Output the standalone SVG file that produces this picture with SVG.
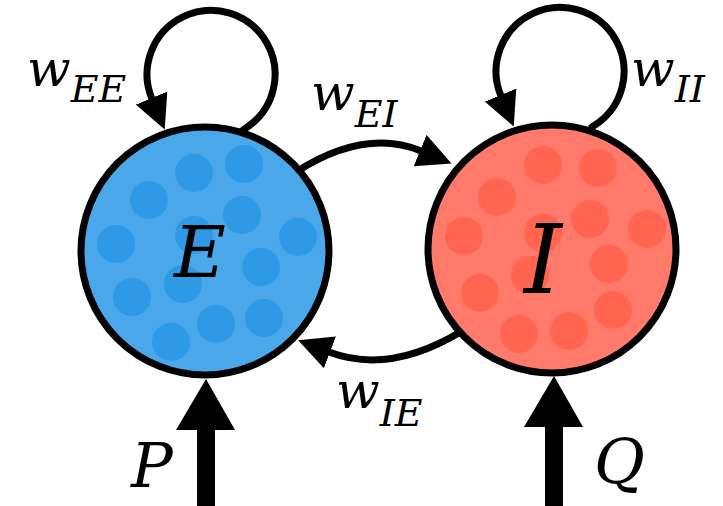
<svg xmlns="http://www.w3.org/2000/svg" width="723" height="506" viewBox="0 0 723 506">
<style>
text{font-family:"DejaVu Serif",serif;font-style:italic;fill:#000}
.w{font-size:51px}
.sub{font-size:38px}
.conn{fill:none;stroke:#000;stroke-width:7}
.ring{stroke:#000;stroke-width:7}
.efill{fill:#4AA8EA}
.edot{fill:#2E99E4}
.ifill{fill:#FF7A6A}
.idot{fill:#FF6550}
</style>
<defs>
<marker id="ah" markerUnits="userSpaceOnUse" viewBox="0 0 34 34" refX="1" refY="17" markerWidth="34" markerHeight="34" orient="auto">
<path d="M0,0 L34,17 L0,34 z" fill="#000"/>
</marker>
</defs>
<g id="connectors">
<path class="conn" d="M241,131.5 L246,128 A64 64 0 1 0 152,99" marker-end="url(#ah)"/>
<path class="conn" d="M590,128.5 L595,125 A64 64 0 1 0 501,96" marker-end="url(#ah)"/>
<path class="conn" d="M296,172 Q365,128 421,151" marker-end="url(#ah)"/>
<path class="conn" d="M462,331 Q390,375 329,352" marker-end="url(#ah)"/>
<polygon points="197,506 197,430 176,430 206,379 235,430 215,430 215,506" fill="#000"/>
<polygon points="545,506 545,427 524,427 554,376 583,427 563,427 563,506" fill="#000"/>
</g>
<g id="E">
<circle class="ring efill" cx="205" cy="251" r="124"/>
<g class="edot">
<circle cx="194" cy="173" r="19"/><circle cx="244" cy="164" r="19"/><circle cx="149" cy="200" r="19"/>
<circle cx="242" cy="215" r="19"/><circle cx="298" cy="237" r="19"/><circle cx="116" cy="244" r="19"/>
<circle cx="194" cy="235" r="19"/><circle cx="261" cy="267" r="19"/><circle cx="183" cy="284" r="19"/>
<circle cx="132" cy="297" r="19"/><circle cx="216" cy="324" r="19"/><circle cx="264" cy="318" r="19"/>
<circle cx="171" cy="342" r="19"/>
</g>
<text x="174" y="277" font-size="71">E</text>
</g>
<g id="I">
<circle class="ring ifill" cx="552" cy="249" r="124"/>
<g class="idot">
<circle cx="543" cy="165" r="19"/><circle cx="598" cy="168" r="19"/><circle cx="497" cy="197" r="19"/>
<circle cx="590" cy="219" r="19"/><circle cx="647" cy="229" r="19"/><circle cx="464" cy="236" r="19"/>
<circle cx="543" cy="233" r="19"/><circle cx="609" cy="264" r="19"/><circle cx="530" cy="275" r="19"/>
<circle cx="480" cy="293" r="19"/><circle cx="613" cy="310" r="19"/><circle cx="519" cy="334" r="19"/>
<circle cx="569" cy="331" r="19"/>
</g>
<text x="524" y="293" font-size="96">I</text>
</g>
<g id="labels">
<text class="w" x="27" y="86">w<tspan class="sub" dy="16">EE</tspan></text>
<text class="w" x="311" y="110">w<tspan class="sub" dy="17">EI</tspan></text>
<text class="w" x="631" y="86">w<tspan class="sub" dy="16">II</tspan></text>
<text class="w" x="336" y="408">w<tspan class="sub" dy="18">IE</tspan></text>
<text x="131" y="487" font-size="62">P</text>
<text x="594" y="483" font-size="62">Q</text>
</g>
</svg>
